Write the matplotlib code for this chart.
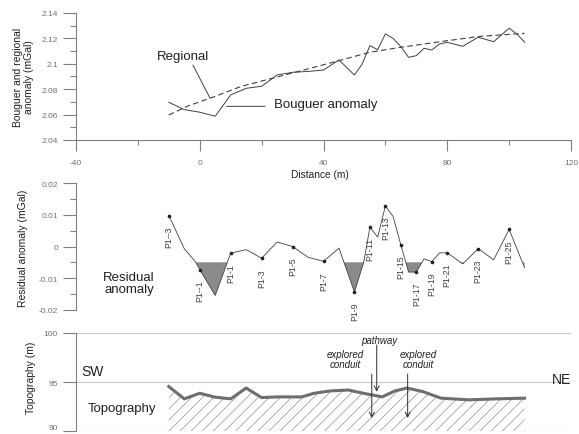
import numpy as np
import matplotlib
matplotlib.use("Agg")
import matplotlib.pyplot as plt
from matplotlib.ticker import MultipleLocator, FuncFormatter

plt.rcParams['font.family'] = ['Liberation Sans', 'DejaVu Sans']
plt.rcParams['axes.unicode_minus'] = False
plt.rcParams['hatch.linewidth'] = 0.5

# Bouguer anomaly along the profile (mGal)
bouguer_x = [-10, -5, 0, 5, 10, 15, 20, 25, 30, 35, 40, 45, 50, 52.5, 55, 57.5,
             60, 62.5, 65, 67.5, 70, 72.5, 75, 77.5, 80, 85, 90, 95, 100, 102.5, 105]
bouguer = [2.0697, 2.0639, 2.0619, 2.0587, 2.0755, 2.0807, 2.0823, 2.0912, 2.0933,
           2.0940, 2.0951, 2.1030, 2.0912, 2.0999, 2.1143, 2.1111, 2.1235, 2.1200,
           2.1135, 2.1051, 2.1064, 2.1122, 2.1109, 2.1156, 2.1169, 2.1138, 2.1209,
           2.1174, 2.1280, 2.1235, 2.1170]

# Regional trend (mGal)
regional_x = [-10, -4, 5, 13.5, 30, 45, 55, 65, 80, 91, 105]
regional = [2.0597, 2.0666, 2.0744, 2.0823, 2.0928, 2.1025, 2.1091, 2.1130,
            2.1182, 2.1217, 2.1240]

# Residual anomaly (mGal)
residual_x = [-10, -5, -1.5, 0, 5, 10, 15, 20, 25, 30, 35, 40, 45, 50, 53, 55, 57.5,
              60, 62.5, 65, 67.5, 70, 72.5, 75, 77.5, 80, 85, 90, 95, 100, 105]
residual = [0.0098, -0.0007, -0.0047, -0.0073, -0.0155, -0.0021, -0.0010, -0.0037,
            0.0014, 0.0000, -0.0034, -0.0047, -0.0005, -0.0144, -0.0050, 0.0061,
            0.0030, 0.0128, 0.0095, 0.0005, -0.0081, -0.0081, -0.0039, -0.0048,
            -0.0020, -0.0020, -0.0055, -0.0007, -0.0042, 0.0054, -0.0067]
threshold = -0.005

# Station names and their distance
station_x = [-10, 0, 10, 20, 30, 40, 50, 55, 60, 65, 70, 75, 80, 90, 100]
station_names = ['P1--3', 'P1--1', 'P1-1', 'P1-3', 'P1-5', 'P1-7', 'P1-9', 'P1-11',
                 'P1-13', 'P1-15', 'P1-17', 'P1-19', 'P1-21', 'P1-23', 'P1-25']

# Ground surface (m)
topo_x = [-10, -5, 0, 5, 10, 15, 20, 25, 33, 37, 42, 48, 54, 59, 63, 67, 72, 78, 87, 96, 105]
topo = [94.55, 93.3, 93.87, 93.47, 93.3, 94.4, 93.43, 93.5, 93.5, 93.87, 94.1, 94.2,
        93.8, 93.5, 94.1, 94.4, 94.05, 93.37, 93.2, 93.3, 93.37]

W, H = 579, 435
fig = plt.figure(figsize=(W / 100, H / 100), dpi=100)

def frac(left, top, right, bottom):
    return [left / W, 1 - bottom / H, (right - left) / W, (bottom - top) / H]

spine_c = '#808080'
tick_c = '#707070'
line_c = '#404040'
text_c = '#202020'

def style_axis(ax):
    for s in ['top', 'right']:
        ax.spines[s].set_visible(False)
    for s in ['left', 'bottom']:
        ax.spines[s].set_color(spine_c)
        ax.spines[s].set_linewidth(0.8)
    ax.tick_params(which='both', colors=spine_c, labelcolor=tick_c, labelsize=6, width=0.8)
    ax.tick_params(axis='y', which='major', length=9.4, pad=3.5)
    ax.tick_params(axis='y', which='minor', length=4.3)
    ax.set_xlim(-40, 120)

# --- Bouguer and regional anomaly ---
ax1 = fig.add_axes(frac(76, 14, 571, 141))
style_axis(ax1)
ax1.plot(bouguer_x, bouguer, color=line_c, lw=0.7)
ax1.plot(regional_x, regional, color=line_c, lw=0.8, ls=(0, (5, 3)))
ax1.set_ylim(2.04, 2.14)
ax1.yaxis.set_major_locator(MultipleLocator(0.02))
ax1.yaxis.set_minor_locator(MultipleLocator(0.01))
ax1.yaxis.set_major_formatter(FuncFormatter(lambda v, p: '%g' % round(v, 3)))
ax1.xaxis.set_major_locator(MultipleLocator(40))
ax1.xaxis.set_minor_locator(MultipleLocator(20))
ax1.tick_params(axis='x', which='major', length=8, pad=6)
ax1.tick_params(axis='x', which='minor', length=3.6)

ax1.text(-5.4, 2.106, 'Regional', fontsize=9.5, ha='center', va='center', color=text_c)
ax1.annotate('', xy=(3.3, 2.073), xytext=(-2.2, 2.099),
             arrowprops=dict(arrowstyle='-', color=line_c, lw=0.7, shrinkA=0, shrinkB=0))
ax1.text(40.8, 2.0683, 'Bouguer anomaly', fontsize=9.5, ha='center', va='center', color=text_c)
ax1.annotate('', xy=(8.7, 2.0665), xytext=(21.1, 2.0665),
             arrowprops=dict(arrowstyle='-', color=line_c, lw=0.7, shrinkA=0, shrinkB=0))

fig.text(320 / W, 1 - 174.5 / H, 'Distance (m)', fontsize=7.3, ha='center', va='center', color=text_c)
fig.text(23.5 / W, 1 - 77 / H, 'Bouguer and regional\nanomaly (mGal)', rotation=90,
         ha='center', va='center', fontsize=7.5, linespacing=1.2, color=text_c)

# --- Residual anomaly ---
ax2 = fig.add_axes(frac(76, 184.3, 571, 310.7))
style_axis(ax2)
ax2.spines['bottom'].set_visible(False)
ax2.tick_params(axis='x', which='both', bottom=False, labelbottom=False)
rx = np.array(residual_x)
ry = np.array(residual)
ax2.fill_between(rx, ry, threshold, where=ry < threshold, interpolate=True,
                 color='#8a8a8a', lw=0)
ax2.plot(rx, ry, color=line_c, lw=0.6)
sx = np.array(station_x)
sy = np.array([residual[residual_x.index(x)] for x in station_x])
ax2.plot(sx, sy, ls='none', marker='o', ms=1.6, color=text_c)
for x, y, name in zip(sx, sy, station_names):
    ax2.annotate(name, xy=(x, y), xytext=(0, -7), textcoords='offset points',
                 rotation=90, ha='center', va='top', fontsize=6.3, color=line_c)
ax2.set_ylim(-0.02, 0.02)
ax2.yaxis.set_major_locator(MultipleLocator(0.01))
ax2.yaxis.set_minor_locator(MultipleLocator(0.005))
ax2.yaxis.set_major_formatter(FuncFormatter(lambda v, p: '%g' % round(v, 3)))
ax2.text(-22.9, -0.0115, 'Residual\nanomaly', fontsize=9.5, ha='center', va='center',
         linespacing=1.05, color=text_c)
fig.text(23.5 / W, 1 - 248 / H, 'Residual anomaly (mGal)', rotation=90,
         ha='center', va='center', fontsize=7.5, color=text_c)

# --- Topography ---
ax3 = fig.add_axes(frac(76, 334, 571, 432.3))
style_axis(ax3)
ax3.spines['bottom'].set_visible(False)
ax3.tick_params(axis='x', which='both', bottom=False, labelbottom=False)
ax3.set_ylim(90, 100)
ax3.set_yticks([90, 95, 100])
ax3.yaxis.grid(True, color='#c8c8c8', lw=0.8)
ax3.set_axisbelow(True)
# keep the lowest label inside the figure
ax3.get_yticklabels()[0].set_va('bottom')
ax3.fill_between(topo_x, topo, 90, facecolor='white', edgecolor='#909090',
                 hatch='///', lw=0, zorder=2)
ax3.plot(topo_x, topo, color='#6e6e6e', lw=2.2, zorder=3)

ax3.text(-34.5, 96.13, 'SW', fontsize=10, ha='center', va='center', color=text_c)
ax3.text(116.8, 95.32, 'NE', fontsize=10, ha='center', va='center', color=text_c)
ax3.text(-25.1, 92.37, 'Topography', fontsize=9.5, ha='center', va='center', color=text_c)

arrow = dict(arrowstyle='->,head_length=0.35,head_width=0.18', color='#303030',
             lw=0.7, shrinkA=0, shrinkB=0)
ax3.text(57.9, 99.29, 'pathway', fontsize=7, style='italic', ha='center', va='center', color=text_c)
ax3.annotate('', xy=(57.2, 94.03), xytext=(57.2, 98.78), arrowprops=arrow)
ax3.text(46.9, 97.35, 'explored\nconduit', fontsize=7, style='italic', ha='center',
         va='center', linespacing=1.1, color=text_c)
ax3.annotate('', xy=(55.6, 91.35), xytext=(55.6, 95.83), arrowprops=arrow)
ax3.text(70.5, 97.35, 'explored\nconduit', fontsize=7, style='italic', ha='center',
         va='center', linespacing=1.1, color=text_c)
ax3.annotate('', xy=(67.2, 91.35), xytext=(67.2, 95.83), arrowprops=arrow)
fig.text(31.5 / W, 1 - 378 / H, 'Topography (m)', rotation=90,
         ha='center', va='center', fontsize=7.5, color=text_c)

fig.savefig('out.png', dpi=100)
